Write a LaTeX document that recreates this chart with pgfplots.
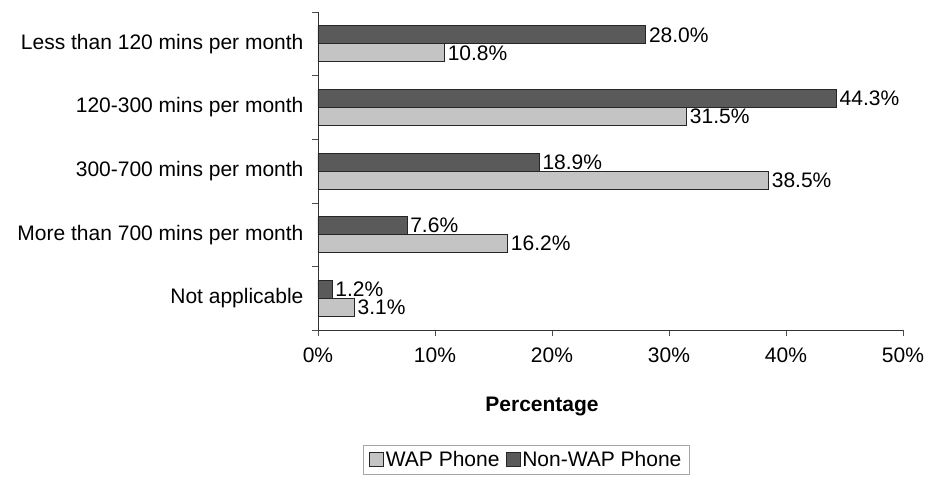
\documentclass[border=0pt]{standalone}
\usepackage{pgfplots}
\pgfplotsset{compat=1.18}
\usepackage{fontspec}
\setmainfont{Liberation Sans}
\definecolor{wapgray}{HTML}{C4C4C4}
\definecolor{nonwapgray}{HTML}{5A5A5A}
\begin{document}
\begin{tikzpicture}[font=\fontsize{21}{25}\selectfont]
\useasboundingbox (-318pt,-154pt) rectangle (613pt,330pt);
\begin{axis}[
  at={(0,0)}, anchor=south west,
  scale only axis, width=585pt, height=318pt,
  xbar, bar width=18pt,
  xmin=0, xmax=50, ymin=-0.5, ymax=4.5,
  axis x line*=bottom, axis y line*=left,
  axis line style={draw=black!80, line width=0.8pt},
  /pgf/number format/assume math mode=true,
  xtick={0,10,...,50},
  xticklabel={\pgfmathprintnumber{\tick}\%},
  xticklabel style={yshift=-8pt},
  ytick={0,...,4},
  yticklabels={Not applicable, More than 700 mins per month, 300-700 mins per month, 120-300 mins per month, Less than 120 mins per month},
  yticklabel style={xshift=-5pt},
  minor ytick={-0.5,0.5,...,4.5},
  major y tick style={draw=none},
  tick align=outside, major tick length=6pt, minor tick length=6pt,
  tick style={draw=black!70, line width=0.6pt},
  xlabel={\bfseries Percentage},
  xlabel style={at={(axis description cs:0.383,-0.242)}, anchor=center},
  point meta=x,
  nodes near coords={\pgfmathprintnumber[fixed,zerofill,precision=1]{\pgfplotspointmeta}\%},
  nodes near coords style={anchor=west, inner xsep=3pt},
  legend columns=2,
  legend style={at={(axis description cs:0.356,-0.362)}, anchor=north,
    draw=black!35, line width=0.8pt, inner xsep=6pt, inner ysep=4pt,
    /tikz/every even column/.append style={column sep=4pt}},
  legend image code/.code={\draw[#1, bar shift=0pt] (0pt,-7pt) rectangle (14pt,7pt);},
]
% WAP phone users
\addplot[fill=wapgray, draw=black!85, line width=0.8pt, bar shift=-9pt]
  coordinates {(3.1,0) (16.2,1) (38.5,2) (31.5,3) (10.8,4)};
% Non-WAP phone users
\addplot[fill=nonwapgray, draw=black!85, line width=0.8pt, bar shift=9pt]
  coordinates {(1.2,0) (7.6,1) (18.9,2) (44.3,3) (28.0,4)};
\legend{WAP Phone, Non-WAP Phone}
\end{axis}
\end{tikzpicture}
\end{document}
